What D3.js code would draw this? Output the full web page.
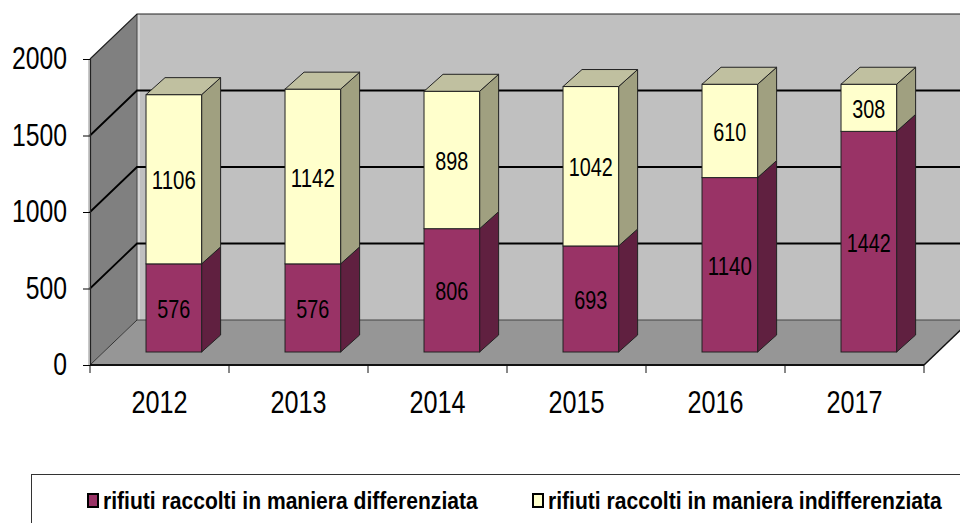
<!DOCTYPE html>
<html>
<head>
<meta charset="utf-8">
<script src="https://cdn.jsdelivr.net/npm/d3@7"></script>
<style>
    html, body { margin: 0; padding: 0; background: white; }
    svg { display: block; }
    text { font-family: "Liberation Sans", Arial, sans-serif; fill: #000; }
</style>
</head>
<body>
<svg id="chart" width="960" height="523"></svg>
<script>
const years = ["2012", "2013", "2014", "2015", "2016", "2017"];
const differenziata = [576, 576, 806, 693, 1140, 1442];
const indifferenziata = [1106, 1142, 898, 1042, 610, 308];
const yTicks = [0, 500, 1000, 1500, 2000];
const seriesNames = ["rifiuti raccolti in maniera differenziata", "rifiuti raccolti in maniera indifferenziata"];

const width = 960;

const frontColors = ["#993366", "#ffffcc"];
const topColors = ["#7a2951", "#c0c0a0"];
const sideColors = ["#602040", "#a0a080"];

const svg = d3.select("#chart");

//scales: front edge of the chart box
const x = d3.scaleBand().domain(years).range([90, 924]);
const y = d3.scaleLinear().domain([0, 2000]).range([365, 59]);

//3d offsets
const wallDx = 47;
const wallDy = -45;
const barDx = 19;
const barDy = -17;
const barLift = 13; //bars stand on the floor, a bit behind the front edge
const barOffset = x.bandwidth() * 0.403;
const barWidth = x.bandwidth() * 0.4;

const poly = pts => pts.map(p => p.join(",")).join(" ");

//back wall, left wall, floor
svg.append("polygon")
    .attr("points", poly([[137, y(2000) + wallDy], [width, y(2000) + wallDy], [width, y(0) + wallDy], [137, y(0) + wallDy]]))
    .attr("fill", "#c0c0c0");
svg.append("rect")
    .attr("x", 137).attr("y", y(2000) + wallDy)
    .attr("width", 3).attr("height", y(0) - y(2000))
    .attr("fill", "#d4d4d4");
svg.append("polygon")
    .attr("points", poly([[90, y(0)], [137, y(0) + wallDy], [137, y(2000) + wallDy], [90, y(2000)]]))
    .attr("fill", "#808080");
svg.append("rect")
    .attr("x", 88).attr("y", y(2000))
    .attr("width", 2).attr("height", y(0) - y(2000))
    .attr("fill", "#c8c8c8");
svg.append("polygon")
    .attr("points", poly([[90, y(0)], [924, y(0)], [924 + wallDx, y(0) + wallDy], [137, y(0) + wallDy]]))
    .attr("fill", "#969696");

//floor and wall outlines
svg.append("line")
    .attr("x1", 137).attr("x2", width)
    .attr("y1", y(0) + wallDy).attr("y2", y(0) + wallDy)
    .attr("stroke", "#444").attr("stroke-width", 1);
svg.append("line")
    .attr("x1", 90).attr("x2", 137)
    .attr("y1", y(0)).attr("y2", y(0) + wallDy)
    .attr("stroke", "#333").attr("stroke-width", 1);
svg.append("line")
    .attr("x1", 924).attr("x2", 924 + wallDx)
    .attr("y1", y(0)).attr("y2", y(0) + wallDy)
    .attr("stroke", "#111").attr("stroke-width", 1.5);
svg.append("line")
    .attr("x1", 137).attr("x2", 137)
    .attr("y1", y(2000) + wallDy).attr("y2", y(0) + wallDy)
    .attr("stroke", "#444").attr("stroke-width", 1);

//grid lines, they bend round the left wall
yTicks.filter(d => d > 0).forEach(d => {
    svg.append("polyline")
        .attr("points", poly([[90, y(d)], [137, y(d) + wallDy], [width, y(d) + wallDy]]))
        .attr("fill", "none")
        .attr("stroke", d === 2000 ? "#222" : "#000")
        .attr("stroke-width", d === 2000 ? 1.2 : 1.8);
});

//axes
const yAxis = svg.append("g")
    .attr("transform", "translate(90,0)")
    .call(d3.axisLeft(y).tickValues(yTicks).tickFormat(d3.format("d")).tickSize(7).tickPadding(16));
yAxis.select(".domain").attr("stroke", "#222").attr("stroke-width", 1.2);

const xAxis = svg.append("g")
    .attr("transform", `translate(0,${y(0)})`)
    .call(d3.axisBottom(x).tickSize(0).tickPadding(25));
xAxis.select(".domain").remove();

svg.append("line")
    .attr("x1", 90).attr("x2", 924)
    .attr("y1", y(0)).attr("y2", y(0))
    .attr("stroke", "#111").attr("stroke-width", 2);

svg.append("g").selectAll("line")
    .data(d3.range(years.length + 1))
    .join("line")
    .attr("x1", i => 90 + i * x.bandwidth())
    .attr("x2", i => 90 + i * x.bandwidth())
    .attr("y1", y(0))
    .attr("y2", y(0) + 8)
    .attr("stroke", "#111");

yAxis.selectAll("text")
    .style("font-size", "31px")
    .attr("textLength", d => String(d).length * 13.75)
    .attr("lengthAdjust", "spacingAndGlyphs");
xAxis.selectAll("text")
    .style("font-size", "32px")
    .attr("dy", "0.71em")
    .attr("textLength", 56)
    .attr("lengthAdjust", "spacingAndGlyphs");

//stacked bars
const rows = years.map((year, i) => ({ year, 0: differenziata[i], 1: indifferenziata[i] }));
const stacked = d3.stack().keys([0, 1])(rows);

const barY = v => y(v) - barLift;

years.forEach((year, i) => {
    const g = svg.append("g").attr("class", "bar");
    const left = x(year) + barOffset;
    const right = left + barWidth;

    stacked.forEach((layer, s) => {
        const [v0, v1] = layer[i];

        //side face
        g.append("polygon")
            .attr("points", poly([
                [right, barY(v0)], [right + barDx, barY(v0) + barDy],
                [right + barDx, barY(v1) + barDy], [right, barY(v1)]
            ]))
            .attr("fill", sideColors[s])
            .attr("stroke", "#222").attr("stroke-width", 1);

        //front face
        g.append("rect")
            .attr("x", left).attr("y", barY(v1))
            .attr("width", barWidth).attr("height", barY(v0) - barY(v1))
            .attr("fill", frontColors[s])
            .attr("stroke", "#222").attr("stroke-width", 1);

        //top face, only the top segment shows it
        if (s === stacked.length - 1) {
            g.append("polygon")
                .attr("points", poly([
                    [left, barY(v1)], [right, barY(v1)],
                    [right + barDx, barY(v1) + barDy], [left + barDx, barY(v1) + barDy]
                ]))
                .attr("fill", topColors[s])
                .attr("stroke", "#222").attr("stroke-width", 1);
        }

        //value label
        const label = String(s === 0 ? differenziata[i] : indifferenziata[i]);
        g.append("text")
            .attr("x", left + barWidth / 2)
            .attr("y", (barY(v0) + barY(v1)) / 2 + 1)
            .attr("dy", "0.36em")
            .attr("text-anchor", "middle")
            .attr("textLength", label.length * 11)
            .attr("lengthAdjust", "spacingAndGlyphs")
            .style("font-size", "25px")
            .text(label);
    });
});

//legend
svg.append("rect")
    .attr("x", 31.5).attr("y", 474.5)
    .attr("width", 960).attr("height", 80)
    .attr("fill", "white")
    .attr("stroke", "#333").attr("stroke-width", 1);

const legendX = [88, 533];
const legendText = [103, 548];
const legendLen = [375, 394];
seriesNames.forEach((name, i) => {
    svg.append("rect")
        .attr("x", legendX[i]).attr("y", 494)
        .attr("width", 10).attr("height", 13)
        .attr("fill", frontColors[i])
        .attr("stroke", "#000").attr("stroke-width", 2);
    const label = svg.append("text")
        .style("font-size", "23px")
        .style("font-weight", "bold")
        .text(name);
    //squeeze to the narrow width of the original
    const squeeze = legendLen[i] / label.node().getComputedTextLength();
    label.attr("transform", `translate(${legendText[i]},509) scale(${squeeze},1)`);
});
</script>
</body>
</html>
